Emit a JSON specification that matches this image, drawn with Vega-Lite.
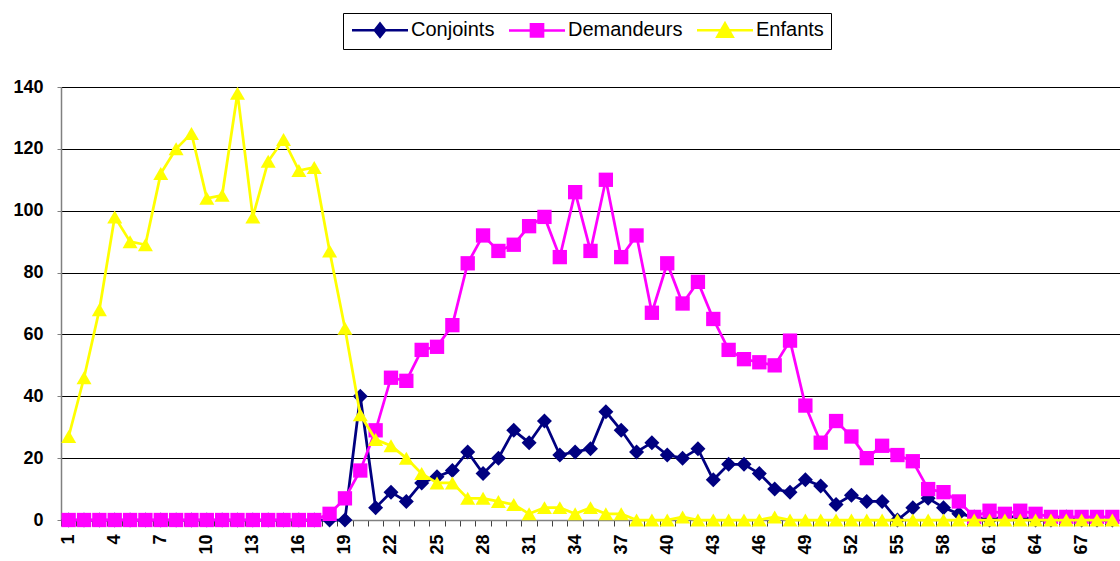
{
  "$schema": "https://vega.github.io/schema/vega-lite/v6.json",
  "width": 1059,
  "height": 433,
  "autosize": "none",
  "padding": {"left": 61, "top": 87, "right": 0, "bottom": 41},
  "background": "#ffffff",
  "config": {
    "view": {"stroke": null},
    "font": "Liberation Sans",
    "legend": {
      "orient": "none",
      "legendX": 282,
      "legendY": -74,
      "direction": "horizontal",
      "padding": 7,
      "strokeColor": "#000000",
      "fillColor": "#ffffff",
      "labelFont": "Liberation Sans",
      "labelFontSize": 20,
      "labelColor": "#000000",
      "symbolSize": 196,
      "symbolStrokeWidth": 2.5,
      "symbolOffset": 20,
      "labelOffset": 21,
      "columnPadding": 9
    }
  },
  "data": {
    "values": [
      {"age": 1, "Conjoints": 0, "Demandeurs": 0, "Enfants": 27},
      {"age": 2, "Conjoints": 0, "Demandeurs": 0, "Enfants": 46},
      {"age": 3, "Conjoints": 0, "Demandeurs": 0, "Enfants": 68},
      {"age": 4, "Conjoints": 0, "Demandeurs": 0, "Enfants": 98},
      {"age": 5, "Conjoints": 0, "Demandeurs": 0, "Enfants": 90},
      {"age": 6, "Conjoints": 0, "Demandeurs": 0, "Enfants": 89},
      {"age": 7, "Conjoints": 0, "Demandeurs": 0, "Enfants": 112},
      {"age": 8, "Conjoints": 0, "Demandeurs": 0, "Enfants": 120},
      {"age": 9, "Conjoints": 0, "Demandeurs": 0, "Enfants": 125},
      {"age": 10, "Conjoints": 0, "Demandeurs": 0, "Enfants": 104},
      {"age": 11, "Conjoints": 0, "Demandeurs": 0, "Enfants": 105},
      {"age": 12, "Conjoints": 0, "Demandeurs": 0, "Enfants": 138},
      {"age": 13, "Conjoints": 0, "Demandeurs": 0, "Enfants": 98},
      {"age": 14, "Conjoints": 0, "Demandeurs": 0, "Enfants": 116},
      {"age": 15, "Conjoints": 0, "Demandeurs": 0, "Enfants": 123},
      {"age": 16, "Conjoints": 0, "Demandeurs": 0, "Enfants": 113},
      {"age": 17, "Conjoints": 0, "Demandeurs": 0, "Enfants": 114},
      {"age": 18, "Conjoints": 0, "Demandeurs": 2, "Enfants": 87},
      {"age": 19, "Conjoints": 0, "Demandeurs": 7, "Enfants": 62},
      {"age": 20, "Conjoints": 40, "Demandeurs": 16, "Enfants": 34},
      {"age": 21, "Conjoints": 4, "Demandeurs": 29, "Enfants": 26},
      {"age": 22, "Conjoints": 9, "Demandeurs": 46, "Enfants": 24},
      {"age": 23, "Conjoints": 6, "Demandeurs": 45, "Enfants": 20},
      {"age": 24, "Conjoints": 12, "Demandeurs": 55, "Enfants": 15},
      {"age": 25, "Conjoints": 14, "Demandeurs": 56, "Enfants": 12},
      {"age": 26, "Conjoints": 16, "Demandeurs": 63, "Enfants": 12},
      {"age": 27, "Conjoints": 22, "Demandeurs": 83, "Enfants": 7},
      {"age": 28, "Conjoints": 15, "Demandeurs": 92, "Enfants": 7},
      {"age": 29, "Conjoints": 20, "Demandeurs": 87, "Enfants": 6},
      {"age": 30, "Conjoints": 29, "Demandeurs": 89, "Enfants": 5},
      {"age": 31, "Conjoints": 25, "Demandeurs": 95, "Enfants": 2},
      {"age": 32, "Conjoints": 32, "Demandeurs": 98, "Enfants": 4},
      {"age": 33, "Conjoints": 21, "Demandeurs": 85, "Enfants": 4},
      {"age": 34, "Conjoints": 22, "Demandeurs": 106, "Enfants": 2},
      {"age": 35, "Conjoints": 23, "Demandeurs": 87, "Enfants": 4},
      {"age": 36, "Conjoints": 35, "Demandeurs": 110, "Enfants": 2},
      {"age": 37, "Conjoints": 29, "Demandeurs": 85, "Enfants": 2},
      {"age": 38, "Conjoints": 22, "Demandeurs": 92, "Enfants": 0},
      {"age": 39, "Conjoints": 25, "Demandeurs": 67, "Enfants": 0},
      {"age": 40, "Conjoints": 21, "Demandeurs": 83, "Enfants": 0},
      {"age": 41, "Conjoints": 20, "Demandeurs": 70, "Enfants": 1},
      {"age": 42, "Conjoints": 23, "Demandeurs": 77, "Enfants": 0},
      {"age": 43, "Conjoints": 13, "Demandeurs": 65, "Enfants": 0},
      {"age": 44, "Conjoints": 18, "Demandeurs": 55, "Enfants": 0},
      {"age": 45, "Conjoints": 18, "Demandeurs": 52, "Enfants": 0},
      {"age": 46, "Conjoints": 15, "Demandeurs": 51, "Enfants": 0},
      {"age": 47, "Conjoints": 10, "Demandeurs": 50, "Enfants": 1},
      {"age": 48, "Conjoints": 9, "Demandeurs": 58, "Enfants": 0},
      {"age": 49, "Conjoints": 13, "Demandeurs": 37, "Enfants": 0},
      {"age": 50, "Conjoints": 11, "Demandeurs": 25, "Enfants": 0},
      {"age": 51, "Conjoints": 5, "Demandeurs": 32, "Enfants": 0},
      {"age": 52, "Conjoints": 8, "Demandeurs": 27, "Enfants": 0},
      {"age": 53, "Conjoints": 6, "Demandeurs": 20, "Enfants": 0},
      {"age": 54, "Conjoints": 6, "Demandeurs": 24, "Enfants": 0},
      {"age": 55, "Conjoints": 0, "Demandeurs": 21, "Enfants": 0},
      {"age": 56, "Conjoints": 4, "Demandeurs": 19, "Enfants": 0},
      {"age": 57, "Conjoints": 7, "Demandeurs": 10, "Enfants": 0},
      {"age": 58, "Conjoints": 4, "Demandeurs": 9, "Enfants": 0},
      {"age": 59, "Conjoints": 2, "Demandeurs": 6, "Enfants": 0},
      {"age": 60, "Conjoints": 1, "Demandeurs": 1, "Enfants": 0},
      {"age": 61, "Conjoints": 0, "Demandeurs": 3, "Enfants": 0},
      {"age": 62, "Conjoints": 1, "Demandeurs": 2, "Enfants": 0},
      {"age": 63, "Conjoints": 1, "Demandeurs": 3, "Enfants": 0},
      {"age": 64, "Conjoints": 0, "Demandeurs": 2, "Enfants": 0},
      {"age": 65, "Conjoints": 0, "Demandeurs": 1, "Enfants": 0},
      {"age": 66, "Conjoints": 1, "Demandeurs": 1, "Enfants": 0},
      {"age": 67, "Conjoints": 0, "Demandeurs": 1, "Enfants": 0},
      {"age": 68, "Conjoints": 0, "Demandeurs": 1, "Enfants": 0},
      {"age": 69, "Conjoints": 0, "Demandeurs": 1, "Enfants": 0}
    ]
  },
  "transform": [
    {"fold": ["Conjoints", "Demandeurs", "Enfants"], "as": ["serie", "valeur"]}
  ],
  "encoding": {
    "x": {
      "field": "age",
      "type": "ordinal",
      "sort": "ascending",
      "scale": {"type": "band", "paddingInner": 0, "paddingOuter": 0},
      "axis": {
        "title": null,
        "tickBand": "extent",
        "tickSize": 6,
        "tickColor": "#404040",
        "domainColor": "#808080",
        "domainWidth": 1.5,
        "labelAngle": -90,
        "labelFont": "Liberation Sans",
        "labelFontWeight": "bold",
        "labelFontSize": 18,
        "labelColor": "#000000",
        "labelPadding": 8,
        "labelOverlap": false,
        "labelExpr": "(datum.value - 1) % 3 === 0 ? datum.label : ''",
        "grid": false
      }
    },
    "y": {
      "field": "valeur",
      "type": "quantitative",
      "scale": {"domain": [0, 140], "nice": false},
      "axis": {
        "title": null,
        "values": [0, 20, 40, 60, 80, 100, 120, 140],
        "tickSize": 4,
        "tickColor": "#808080",
        "domainColor": "#808080",
        "domainWidth": 1.5,
        "labelFont": "Liberation Sans",
        "labelFontWeight": "bold",
        "labelFontSize": 18,
        "labelColor": "#000000",
        "labelPadding": 14,
        "grid": true,
        "gridColor": "#000000",
        "gridWidth": 1
      }
    },
    "color": {
      "field": "serie",
      "type": "nominal",
      "title": null,
      "scale": {"domain": ["Conjoints", "Demandeurs", "Enfants"], "range": ["#000080", "#FF00FF", "#FFFF00"]},
      "legend": {
        "title": null,
        "encode": {
          "symbols": {
            "update": {
              "shape": {"signal": "datum.value === 'Conjoints' ? 'M-4,0H4M-0.75,0L0,-0.95L0.75,0L0,0.95Z' : datum.value === 'Demandeurs' ? 'M-4,0H4M-0.87,-0.87H0.87V0.87H-0.87Z' : 'M-4,0H4M0,-1L1.1,0.9L-1.1,0.9Z'"},
              "fill": {"signal": "datum.value === 'Conjoints' ? '#000080' : datum.value === 'Demandeurs' ? '#FF00FF' : '#FFFF00'"},
              "stroke": {"signal": "datum.value === 'Conjoints' ? '#000080' : datum.value === 'Demandeurs' ? '#FF00FF' : '#FFFF00'"},
              "strokeWidth": {"value": 2.5},
              "size": {"value": 196},
              "opacity": {"value": 1}
            }
          }
        }
      }
    }
  },
  "layer": [
    {
      "transform": [{"filter": "datum.serie === 'Conjoints'"}],
      "layer": [
        {"mark": {"type": "line", "strokeWidth": 2.75}, "encoding": {}},
        {"mark": {"type": "point", "shape": "diamond", "filled": true, "opacity": 1, "size": 225}}
      ]
    },
    {
      "transform": [{"filter": "datum.serie === 'Demandeurs'"}],
      "layer": [
        {"mark": {"type": "line", "strokeWidth": 2.75}, "encoding": {}},
        {"mark": {"type": "point", "shape": "square", "filled": true, "opacity": 1, "size": 205}}
      ]
    },
    {
      "transform": [{"filter": "datum.serie === 'Enfants'"}],
      "layer": [
        {"mark": {"type": "line", "strokeWidth": 2.75}, "encoding": {}},
        {"mark": {"type": "point", "shape": "triangle-up", "filled": true, "opacity": 1, "size": 225}}
      ]
    }
  ]
}
